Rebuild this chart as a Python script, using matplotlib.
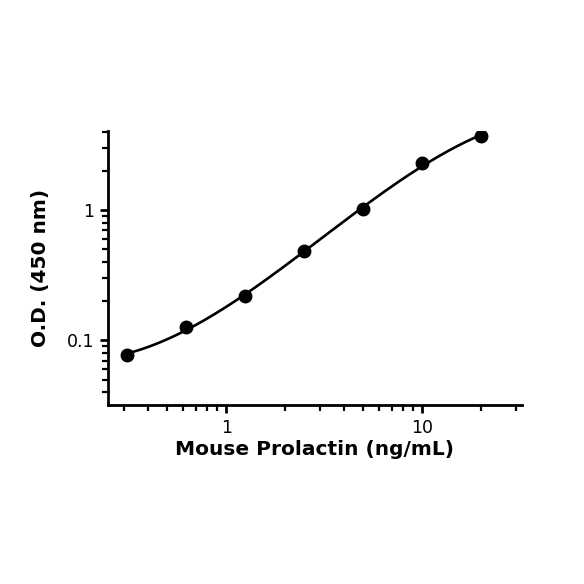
import numpy as np
import matplotlib
matplotlib.use('Agg')
import matplotlib.pyplot as plt
from matplotlib.ticker import LogLocator, FixedLocator, FixedFormatter, NullFormatter

# standard curve data
conc = [0.3125, 0.625, 1.25, 2.5, 5, 10, 20]
od = [0.078, 0.126, 0.219, 0.484, 1.02, 2.29, 3.71]

x_ticks = [1, 10]
x_ticklabels = ['1', '10']
y_ticks = [0.1, 1]
y_ticklabels = ['0.1', '1']

fig = plt.figure(figsize=(5.84, 5.84), dpi=100)
ax = fig.add_axes([0.185, 0.3065, 0.708, 0.4695])

# smooth fit through the points in log-log space
lx = np.log10(conc)
ly = np.log10(od)
coef = np.polyfit(lx, ly, 3)
xs = np.linspace(lx[0], lx[-1], 200)
ax.plot(10 ** xs, 10 ** np.polyval(coef, xs), color='black', lw=1.9, zorder=2)
ax.plot(conc, od, 'o', color='black', markersize=9, zorder=3)

ax.set_xscale('log')
ax.set_yscale('log')
ax.set_xlim(0.25, 32)
ax.set_ylim(0.032, 4.05)

ax.xaxis.set_major_locator(FixedLocator(x_ticks))
ax.xaxis.set_major_formatter(FixedFormatter(x_ticklabels))
ax.xaxis.set_minor_locator(LogLocator(base=10, subs=np.arange(2, 10)))
ax.xaxis.set_minor_formatter(NullFormatter())
ax.yaxis.set_major_locator(FixedLocator(y_ticks))
ax.yaxis.set_major_formatter(FixedFormatter(y_ticklabels))
ax.yaxis.set_minor_locator(LogLocator(base=10, subs=np.arange(2, 10)))
ax.yaxis.set_minor_formatter(NullFormatter())

for s in ['top', 'right']:
    ax.spines[s].set_visible(False)
for s in ['left', 'bottom']:
    ax.spines[s].set_linewidth(2)

ax.tick_params(which='major', length=6, width=2, labelsize=12.5, pad=4)
ax.tick_params(which='minor', length=4, width=1.6)

ax.set_xlabel('Mouse Prolactin (ng/mL)', fontsize=14.5, fontweight='bold', labelpad=2)
ax.set_ylabel('O.D. (450 nm)', fontsize=14.5, fontweight='bold', labelpad=12)

fig.savefig('out.png', dpi=100)
